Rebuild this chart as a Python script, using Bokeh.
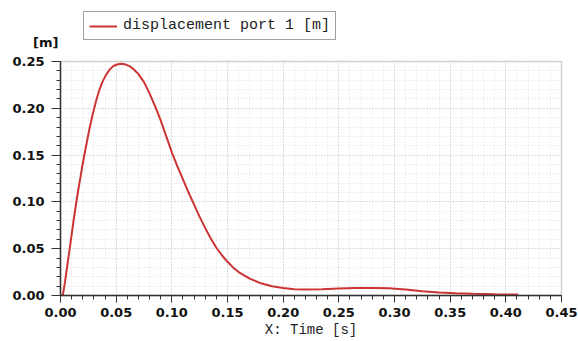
from bokeh.plotting import figure
from bokeh.layouts import column
from bokeh.models import Range1d, Legend, LegendItem, FixedTicker, NumeralTickFormatter
from bokeh.embed import file_html
from bokeh.resources import INLINE

# Data
time_s = [0.000, 0.002, 0.004, 0.006, 0.008, 0.010, 0.012, 0.014, 0.016, 0.018,
          0.020, 0.023, 0.026, 0.029, 0.032, 0.035, 0.038, 0.041, 0.044, 0.047,
          0.050, 0.054, 0.058, 0.062, 0.066, 0.070, 0.075, 0.080, 0.085, 0.090,
          0.095, 0.100, 0.105, 0.110, 0.115, 0.120, 0.125, 0.130, 0.135, 0.140,
          0.145, 0.150, 0.155, 0.160, 0.170, 0.180, 0.190, 0.200, 0.210, 0.220,
          0.235, 0.250, 0.265, 0.280, 0.295, 0.310, 0.325, 0.340, 0.355, 0.370,
          0.390, 0.411]
displacement_m = [0.000, 0.000, 0.014, 0.031, 0.048, 0.065, 0.082, 0.098, 0.113, 0.127,
                  0.141, 0.160, 0.178, 0.194, 0.208, 0.220, 0.229, 0.236, 0.241, 0.2448,
                  0.2465, 0.2475, 0.2470, 0.2450, 0.2415, 0.2365, 0.228, 0.216, 0.202, 0.187,
                  0.170, 0.153, 0.138, 0.124, 0.110, 0.097, 0.084, 0.072, 0.061, 0.051,
                  0.043, 0.036, 0.030, 0.025, 0.018, 0.013, 0.0098, 0.0080, 0.0068, 0.0064,
                  0.0067, 0.0075, 0.0080, 0.0081, 0.0077, 0.0064, 0.0046, 0.0032, 0.0024, 0.0018,
                  0.0013, 0.0010]
x_ticks = [0.00, 0.05, 0.10, 0.15, 0.20, 0.25, 0.30, 0.35, 0.40, 0.45]
y_ticks = [0.00, 0.05, 0.10, 0.15, 0.20, 0.25]
series_name = "displacement port 1 [m]"
x_title = "X: Time [s]"
y_unit = "[m]"

RED = "#cc3333"
TOP_H = 50          # height of the header strip
HEAD_FRAME_H = 42   # header frame ends where the unit label is centred

# ---- header strip: legend and y unit (frame aligned with the main chart) ----
head = figure(width=578, height=TOP_H, output_backend="svg", toolbar_location=None,
              x_range=Range1d(0, 501), y_range=Range1d(0, HEAD_FRAME_H),
              x_axis_location=None, y_axis_location="left",
              min_border_top=0, min_border_left=0, min_border_right=0,
              min_border_bottom=TOP_H - HEAD_FRAME_H)
head.xgrid.visible = False
head.ygrid.visible = False
head.outline_line_color = None
head.background_fill_color = "white"
head.border_fill_color = "white"
sample = head.line(x=[float("nan")], y=[float("nan")], line_color=RED, line_width=2)

hy = head.yaxis[0]
hy.ticker = FixedTicker(ticks=[])
hy.axis_line_color = None
hy.major_tick_out = 0
hy.minor_tick_out = 0
hy.major_tick_in = 0
hy.minor_tick_in = 0
hy.axis_label = y_unit
hy.axis_label_orientation = "horizontal"
hy.axis_label_align = "start"
hy.axis_label_standoff = 2
hy.axis_label_text_font = "DejaVu Sans"
hy.axis_label_text_font_style = "bold"
hy.axis_label_text_font_size = "13px"
hy.axis_label_text_color = "#111111"

legend = Legend(items=[LegendItem(label=series_name, renderers=[sample])],
                location=(23, HEAD_FRAME_H - 40), margin=0, padding=5, spacing=0,
                glyph_width=28, glyph_height=16, label_standoff=6,
                border_line_color="#444444", border_line_width=1,
                background_fill_color="white", background_fill_alpha=1,
                label_text_font="Liberation Mono", label_text_font_size="15px",
                label_text_color="#222222")
head.add_layout(legend, "center")

# ---- main chart ------------------------------------------------------------
p = figure(width=578, height=341 - TOP_H, output_backend="svg", toolbar_location=None,
           x_range=Range1d(0, 0.45), y_range=Range1d(0, 0.25),
           min_border_left=60, min_border_right=17, min_border_top=61 - TOP_H,
           min_border_bottom=46)
p.background_fill_color = "white"
p.border_fill_color = "white"
p.outline_line_color = "#cfcfcf"
p.outline_line_width = 1.5

p.line(time_s, displacement_m, line_color=RED, line_width=2)

for ax, ticks in ((p.xaxis[0], x_ticks), (p.yaxis[0], y_ticks)):
    ax.ticker = FixedTicker(ticks=ticks,
                            minor_ticks=[round(i * 0.01, 2) for i in range(0, 46)])
    ax.formatter = NumeralTickFormatter(format="0.00")
    ax.axis_line_color = "#333333"
    ax.axis_line_width = 1.5
    ax.major_tick_line_color = "#333333"
    ax.minor_tick_line_color = "#333333"
    ax.major_tick_in = 0
    ax.minor_tick_in = 0
    ax.major_label_text_font = "DejaVu Sans"
    ax.major_label_text_font_style = "bold"
    ax.major_label_text_font_size = "13px"
    ax.major_label_text_color = "#111111"

p.xaxis.major_tick_out = 7
p.xaxis.minor_tick_out = 4
p.xaxis.major_label_standoff = 5
p.yaxis.major_tick_out = 9
p.yaxis.minor_tick_out = 4
p.yaxis.major_label_standoff = 7

p.xaxis.axis_label = x_title
p.xaxis.axis_label_text_font = "Liberation Mono"
p.xaxis.axis_label_text_font_style = "normal"
p.xaxis.axis_label_text_font_size = "14px"
p.xaxis.axis_label_text_color = "#222222"
p.xaxis.axis_label_standoff = 2

for g in (p.xgrid[0], p.ygrid[0]):
    g.grid_line_color = "#c8c8c8"
    g.grid_line_dash = "1 2"
    g.grid_line_width = 1
    g.minor_grid_line_color = "#e0e0e0"
    g.minor_grid_line_dash = "1 2"
    g.minor_grid_line_width = 1

layout = column(head, p, spacing=0)
open("out.html", "w").write(file_html(layout, INLINE))
